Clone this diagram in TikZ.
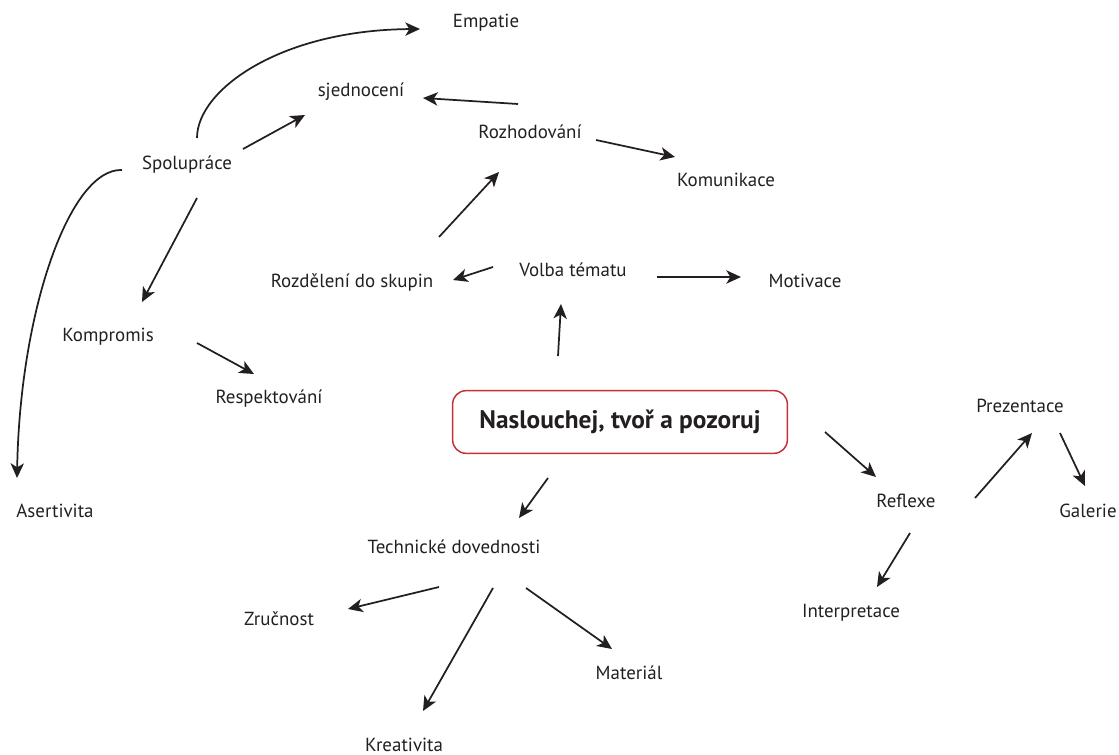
\documentclass[tikz,border=0pt]{standalone}
\usepackage{fontspec}
\setmainfont{PT Sans}
\usetikzlibrary{arrows.meta}
\usetikzlibrary{calc}

\definecolor{hubred}{RGB}{196,48,58}
\definecolor{ink}{RGB}{35,31,32}

\begin{document}
\begin{tikzpicture}[x=0.75pt,y=-0.75pt,
		lbl/.style={text=ink,font=\fontsize{14.2}{16}\selectfont,inner sep=0pt,text height=0.7em,text depth=0pt},
		hub/.style={draw=hubred,line width=1.1pt,rounded corners=10pt,minimum width=251pt,minimum height=47pt,
			text=ink,font=\fontsize{19}{21}\selectfont\bfseries},
		arr/.style={draw=ink,line width=1.3pt,-{Stealth[length=11pt,width=10pt,inset=3pt]}}]
			\useasboundingbox (0,0) rectangle (1119,755);

			% concepts
			\node[hub] (main) at (620,422) {Naslouchej, tvoř a pozoruj};

			\node[lbl] (emp) at (486,23) {Empatie};
			\node[lbl] (sjed) at (361,92) {sjednocení};
			\node[lbl] (rozh) at (530,134) {Rozhodování};
			\node[lbl] (komu) at (726,182) {Komunikace};
			\node[lbl] (spol) at (187,165) {Spolupráce};
			\node[lbl] (rozd) at (352,283) {Rozdělení do skupin};
			\node[lbl] (volba) at (573,272) {Volba tématu};
			\node[lbl] (moti) at (805,283) {Motivace};
			\node[lbl] (komp) at (108,337) {Kompromis};
			\node[lbl] (resp) at (269,399) {Respektování};
			\node[lbl] (aser) at (55,513) {Asertivita};

			\node[lbl] (prez) at (1020,408) {Prezentace};
			\node[lbl] (refl) at (906,503) {Reflexe};
			\node[lbl] (gal) at (1088,513) {Galerie};
			\node[lbl] (interp) at (851,613) {Interpretace};

			\node[lbl] (tech) at (454,549) {Technické dovednosti};
			\node[lbl] (zruc) at (279,621) {Zručnost};
			\node[lbl] (mat) at (629,675) {Materiál};
			\node[lbl] (krea) at (404,747) {Kreativita};

			% upper part
			\draw[arr] ($(spol)+(10,-27)$) .. controls +(0,-48) and +(-140,1) .. ($(emp)+(-66,6)$);
			\draw[arr] ($(spol)+(56,-16)$) -- ($(sjed)+(-56,23)$);
			\draw[arr] ($(rozh)+(-12,-30)$) -- ($(sjed)+(62,6)$);
			\draw[arr] ($(rozh)+(66,6)$) -- ($(komu)+(-51,-25)$);
			\draw[arr] ($(rozd)+(87,-46)$) -- ($(rozh)+(-31,38)$);
			\draw[arr] ($(volba)+(-80,-5)$) -- ($(rozd)+(101,-3)$);
			\draw[arr] ($(volba)+(84,5)$) -- ($(moti)+(-64,-6)$);
			\draw[arr] ($(main)+(-62,-66)$) -- ($(volba)+(-12,32)$);
			\draw[arr] ($(spol)+(10,33)$) -- ($(komp)+(34,-35)$);
			\draw[arr] ($(komp)+(89,6)$) -- ($(resp)+(-15,-25)$);
			\draw[arr] ($(spol)+(-65,5)$) .. controls +(-52,-2) and +(3,-168) .. ($(aser)+(-38,-35)$);

			% right part
			\draw[arr] ($(main)+(205,10)$) -- ($(refl)+(-30,-26)$);
			\draw[arr] ($(refl)+(69,-5)$) -- ($(prez)+(12,25)$);
			\draw[arr] ($(prez)+(40,25)$) -- ($(gal)+(-3,-27)$);
			\draw[arr] ($(refl)+(4,30)$) -- ($(interp)+(26,-26)$);

			% lower part
			\draw[arr] ($(main)+(-72,56)$) -- ($(tech)+(65,-31)$);
			\draw[arr] ($(tech)+(-15,38)$) -- ($(zruc)+(69,-12)$);
			\draw[arr] ($(tech)+(39,39)$) -- ($(krea)+(19,-36)$);
			\draw[arr] ($(tech)+(72,39)$) -- ($(mat)+(-17,-26)$);
		\end{tikzpicture}
\end{document}
